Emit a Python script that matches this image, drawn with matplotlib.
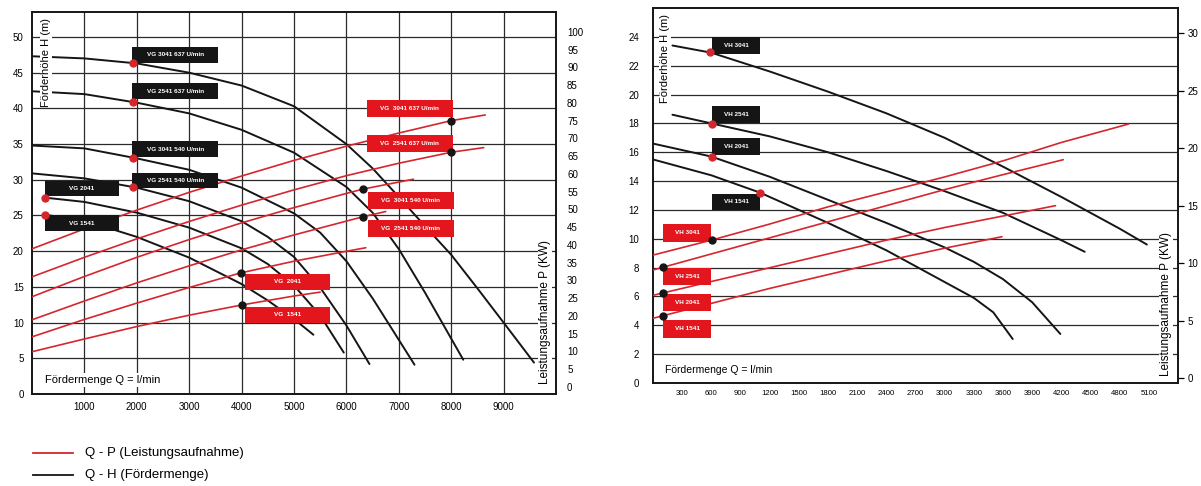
import numpy as np
import matplotlib.pyplot as plt
from matplotlib.patches import Rectangle
from matplotlib.lines import Line2D

plt.rcParams['font.family'] = ['Liberation Sans', 'DejaVu Sans']

RED = '#d6262d'
TAG_RED = '#e2161c'
BLACK = '#151515'
GRID = '#2a2a2a'

# ---- linke Grafik: VG, Q in l/min, H in m, P in kW ----
vg_names = ['VG 3041 637 U/min', 'VG 2541 637 U/min', 'VG 3041 540 U/min',
            'VG 2541 540 U/min', 'VG 2041', 'VG 1541']

vg_q_h_3041_637 = [0, 1000, 2000, 3000, 4000, 5000, 6000, 6500, 7000, 7500, 8000, 8500, 9000, 9580]
vg_h_3041_637 = [47.3, 47.0, 46.3, 45.0, 43.2, 40.3, 35.0, 31.6, 27.6, 23.5, 19.5, 14.8, 10.0, 4.4]
vg_q_h_2541_637 = [0, 1000, 2000, 3000, 4000, 5000, 6000, 6500, 7000, 7500, 8230]
vg_h_2541_637 = [42.4, 42.0, 40.8, 39.3, 37.0, 33.8, 29.0, 25.4, 20.3, 14.2, 4.8]
vg_q_h_3041_540 = [0, 1000, 2000, 3000, 4000, 5000, 5500, 6000, 6500, 7300]
vg_h_3041_540 = [34.8, 34.4, 33.0, 31.4, 28.9, 25.3, 22.6, 18.6, 13.4, 4.1]
vg_q_h_2541_540 = [0, 1000, 2000, 3000, 4000, 4500, 5000, 5500, 6000, 6440]
vg_h_2541_540 = [30.9, 30.2, 28.9, 27.0, 24.2, 22.0, 19.2, 14.9, 9.6, 4.2]
vg_q_h_2041 = [250, 1000, 2000, 3000, 4000, 4500, 5000, 5500, 5950]
vg_h_2041 = [27.5, 26.9, 25.4, 23.3, 20.4, 18.2, 15.2, 11.0, 5.8]
vg_q_h_1541 = [250, 1000, 2000, 3000, 4000, 4500, 5000, 5370]
vg_h_1541 = [25.1, 24.3, 22.0, 19.1, 15.4, 13.1, 10.5, 8.3]

vg_q_p_3041_637 = [0, 1000, 2000, 3000, 4000, 5000, 6000, 7000, 8000, 8650]
vg_p_3041_637 = [38.9, 44.5, 49.8, 54.8, 59.4, 63.8, 67.8, 71.5, 75.0, 76.6]
vg_q_p_2541_637 = [0, 1000, 2000, 3000, 4000, 5000, 6000, 7000, 8000, 8620]
vg_p_2541_637 = [31.0, 36.5, 41.7, 46.6, 51.2, 55.5, 59.5, 63.0, 66.1, 67.4]
vg_q_p_3041_540 = [0, 1000, 2000, 3000, 4000, 5000, 6000, 6310, 7280]
vg_p_3041_540 = [25.4, 31.1, 36.5, 41.5, 46.2, 50.5, 54.5, 55.7, 58.5]
vg_q_p_2541_540 = [0, 1000, 2000, 3000, 4000, 5000, 6000, 6310, 6750]
vg_p_2541_540 = [18.9, 24.2, 29.3, 34.1, 38.6, 42.8, 46.7, 47.9, 49.4]
vg_q_p_2041 = [0, 1000, 2000, 3000, 3980, 5000, 6000, 6370]
vg_p_2041 = [14.1, 19.0, 23.6, 28.0, 32.1, 35.4, 38.2, 39.2]
vg_q_p_1541 = [0, 1000, 2000, 3000, 4010, 5000, 5500]
vg_p_1541 = [9.9, 13.5, 17.0, 20.2, 23.1, 25.6, 26.7]

vg_dot_q_h = [1930, 1930, 1930, 1930, 250, 250]      # rote Punkte auf Q-H
vg_dot_q_p = [8000, 8000, 6310, 6310, 3980, 4010]    # schwarze Punkte auf Q-P

# ---- rechte Grafik: VH ----
vh_names = ['VH 3041', 'VH 2541', 'VH 2041', 'VH 1541']

vh_q_h_3041 = [200, 600, 1200, 1800, 2400, 3000, 3600, 4200, 4800, 5080]
vh_h_3041 = [23.4, 22.9, 21.6, 20.2, 18.7, 17.0, 15.0, 12.9, 10.7, 9.6]
vh_q_h_2541 = [200, 600, 1200, 1800, 2400, 3000, 3600, 4200, 4440]
vh_h_2541 = [18.6, 18.0, 17.1, 16.0, 14.7, 13.3, 11.8, 9.9, 9.1]
vh_q_h_2041 = [0, 600, 1200, 1800, 2400, 3000, 3300, 3600, 3900, 4190]
vh_h_2041 = [16.6, 15.7, 14.3, 12.7, 11.1, 9.4, 8.4, 7.2, 5.6, 3.4]
vh_q_h_1541 = [0, 600, 1100, 1800, 2400, 3000, 3300, 3500, 3700]
vh_h_1541 = [15.5, 14.4, 13.2, 11.1, 9.2, 7.0, 5.9, 4.9, 3.05]

vh_q_p_3041 = [0, 600, 1200, 1800, 2400, 3000, 3600, 4200, 4890]
vh_p_3041 = [10.7, 12.0, 13.4, 14.9, 16.2, 17.5, 18.9, 20.5, 22.1]
vh_q_p_2541 = [0, 600, 1200, 1800, 2400, 3000, 3600, 4220]
vh_p_2541 = [9.4, 10.8, 12.2, 13.6, 15.0, 16.4, 17.7, 19.0]
vh_q_p_2041 = [0, 600, 1200, 1800, 2400, 3000, 3600, 4140]
vh_p_2041 = [7.2, 8.4, 9.6, 10.8, 12.0, 13.1, 14.1, 15.0]
vh_q_p_1541 = [0, 600, 1200, 1800, 2400, 3000, 3590]
vh_p_1541 = [5.2, 6.5, 7.8, 9.0, 10.2, 11.3, 12.3]

vh_dot_q_h = [586, 607, 607, 1100]
vh_dot_q_p = [607, 100, 100, 100]

vg_qh = [(vg_q_h_3041_637, vg_h_3041_637), (vg_q_h_2541_637, vg_h_2541_637),
         (vg_q_h_3041_540, vg_h_3041_540), (vg_q_h_2541_540, vg_h_2541_540),
         (vg_q_h_2041, vg_h_2041), (vg_q_h_1541, vg_h_1541)]
vg_qp = [(vg_q_p_3041_637, vg_p_3041_637), (vg_q_p_2541_637, vg_p_2541_637),
         (vg_q_p_3041_540, vg_p_3041_540), (vg_q_p_2541_540, vg_p_2541_540),
         (vg_q_p_2041, vg_p_2041), (vg_q_p_1541, vg_p_1541)]
vh_qh = [(vh_q_h_3041, vh_h_3041), (vh_q_h_2541, vh_h_2541),
         (vh_q_h_2041, vh_h_2041), (vh_q_h_1541, vh_h_1541)]
vh_qp = [(vh_q_p_3041, vh_p_3041), (vh_q_p_2541, vh_p_2541),
         (vh_q_p_2041, vh_p_2041), (vh_q_p_1541, vh_p_1541)]


def tag(ax_top, ax_ref, q, h, w, hh, text, fc):
    # Kästchen liegen über allen Kurven, Koordinaten in Q/H der Grundachse
    ax_top.add_patch(Rectangle((q - w / 2, h - hh / 2), w, hh, transform=ax_ref.transData,
                               facecolor=fc, edgecolor='none', zorder=5, clip_on=False))
    ax_top.text(q, h, text, transform=ax_ref.transData, color='white', fontsize=4.6,
                fontweight='bold', ha='center', va='center', zorder=6)


def setup(ax, ax2):
    for a in (ax, ax2):
        for s in a.spines.values():
            s.set_linewidth(1.2)
            s.set_color(BLACK)
    ax.set_axisbelow(True)


fig = plt.figure(figsize=(12.01, 4.86), dpi=100)

# ================= linke Grafik =================
axL = fig.add_axes([32 / 1201, 1 - 394 / 486, 524 / 1201, 382 / 486])
axL2 = axL.twinx()
setup(axL, axL2)

for q, h in vg_qh:
    axL.plot(q, h, color=BLACK, lw=1.4, zorder=3, solid_capstyle='round', solid_joinstyle='round')
for q, p in vg_qp:
    axL2.plot(q, p, color=RED, lw=1.2, zorder=3, solid_capstyle='round', solid_joinstyle='round')

vg_tag_pos_h = [(2734, 47.5), (2734, 42.4), (2734, 34.3), (2734, 29.9), (956, 28.8), (956, 23.9)]
vg_tag_pos_p = [(7208, 40.0), (7208, 35.1), (7228, 27.1), (7228, 23.2), (4876, 15.7), (4876, 11.1)]
for i, name in enumerate(vg_names):
    w = 1640 if i < 4 else 1400
    tag(axL2, axL, vg_tag_pos_h[i][0], vg_tag_pos_h[i][1], w, 2.2, name, BLACK)
    w = 1640
    tag(axL2, axL, vg_tag_pos_p[i][0], vg_tag_pos_p[i][1], w, 2.3, name.replace('VG ', 'VG  '), TAG_RED)

for (q, h), dq in zip(vg_qh, vg_dot_q_h):
    axL2.plot([dq], [np.interp(dq, q, h)], 'o', color=RED, ms=5, transform=axL.transData, zorder=7)
for (q, p), dq in zip(vg_qp, vg_dot_q_p):
    axL2.plot([dq], [np.interp(dq, q, p)], 'o', color=BLACK, ms=5, zorder=7)

axL.set_xlim(0, 10000)
axL.set_ylim(0, 53.5)
axL2.set_ylim(-2.0, 105.6)
axL.set_xticks(range(1000, 10000, 1000))
axL.set_yticks(range(0, 55, 5))
axL2.set_yticks(range(0, 105, 5))
axL.grid(True, color=GRID, lw=0.9)
axL.tick_params(length=0, labelsize=7, pad=6)
axL2.tick_params(length=0, labelsize=7, pad=8)

axL.text(0.027, 0.985, 'Förderhöhe H (m)', transform=axL.transAxes, rotation=90,
         ha='center', va='top', fontsize=8, zorder=8,
         bbox=dict(facecolor='white', edgecolor='none', pad=0.5))
axL2.text(0.979, 0.025, 'Leistungsaufnahme P (KW)', transform=axL2.transAxes, rotation=90,
          ha='center', va='bottom', fontsize=8.5, zorder=8,
          bbox=dict(facecolor='white', edgecolor='none', pad=0.5))
axL2.text(0.025, 0.037, 'Fördermenge Q = l/min', transform=axL2.transAxes,
          ha='left', va='center', fontsize=8, zorder=8,
          bbox=dict(facecolor='white', edgecolor='none', pad=1.5))

# ================= rechte Grafik =================
axR = fig.add_axes([653 / 1201, 1 - 383 / 486, 525 / 1201, 375 / 486])
axR2 = axR.twinx()
setup(axR, axR2)

for q, h in vh_qh:
    axR.plot(q, h, color=BLACK, lw=1.4, zorder=3, solid_capstyle='round', solid_joinstyle='round')
for q, p in vh_qp:
    axR2.plot(q, p, color=RED, lw=1.2, zorder=3, solid_capstyle='round', solid_joinstyle='round')

vh_tag_pos_h = [(854, 23.4), (854, 18.6), (854, 16.4), (854, 12.55)]
vh_tag_pos_p = [(350, 10.4), (350, 7.4), (350, 5.6), (350, 3.75)]
for i, name in enumerate(vh_names):
    tag(axR2, axR, vh_tag_pos_h[i][0], vh_tag_pos_h[i][1], 494, 1.15, name, BLACK)
    tag(axR2, axR, vh_tag_pos_p[i][0], vh_tag_pos_p[i][1], 500, 1.2, name, TAG_RED)

for (q, h), dq in zip(vh_qh, vh_dot_q_h):
    axR2.plot([dq], [np.interp(dq, q, h)], 'o', color=RED, ms=5, transform=axR.transData, zorder=7)
for (q, p), dq in zip(vh_qp, vh_dot_q_p):
    axR2.plot([dq], [np.interp(dq, q, p)], 'o', color=BLACK, ms=5, zorder=7)

axR.set_xlim(0, 5400)
axR.set_ylim(0, 26)
axR2.set_ylim(-0.43, 32.2)
axR.set_xticks(range(300, 5400, 300))
axR.set_xticks(range(600, 5400, 600), minor=True)
axR.set_yticks(range(0, 26, 2))
axR2.set_yticks(range(0, 31, 5))
axR.xaxis.grid(True, which='minor', color=GRID, lw=0.9)
axR.yaxis.grid(True, which='major', color=GRID, lw=0.9)
axR.tick_params(which='both', length=0)
axR.tick_params(axis='x', labelsize=5.6, pad=5)
axR.tick_params(axis='y', labelsize=7, pad=10)
axR2.tick_params(axis='y', direction='out', length=4, width=0.9, labelsize=7, pad=3)

axR.text(0.023, 0.985, 'Förderhöhe H (m)', transform=axR.transAxes, rotation=90,
         ha='center', va='top', fontsize=8, zorder=8,
         bbox=dict(facecolor='white', edgecolor='none', pad=0.5))
axR2.text(0.977, 0.02, 'Leistungsaufnahme P (KW)', transform=axR2.transAxes, rotation=90,
          ha='center', va='bottom', fontsize=8.5, zorder=8,
          bbox=dict(facecolor='white', edgecolor='none', pad=0.5))
axR2.text(0.023, 0.035, 'Fördermenge Q = l/min', transform=axR2.transAxes,
          ha='left', va='center', fontsize=7.5, zorder=8,
          bbox=dict(facecolor='white', edgecolor='none', pad=1.5))

# ================= Legende =================
fig.add_artist(Line2D([33 / 1201, 73 / 1201], [1 - 453 / 486] * 2, color=RED, lw=1.3))
fig.add_artist(Line2D([33 / 1201, 73 / 1201], [1 - 475 / 486] * 2, color=BLACK, lw=1.3))
fig.text(85 / 1201, 1 - 453 / 486, 'Q - P (Leistungsaufnahme)', fontsize=9.5, va='center')
fig.text(85 / 1201, 1 - 475 / 486, 'Q - H (Fördermenge)', fontsize=9.5, va='center')

fig.savefig('out.png', dpi=100)
